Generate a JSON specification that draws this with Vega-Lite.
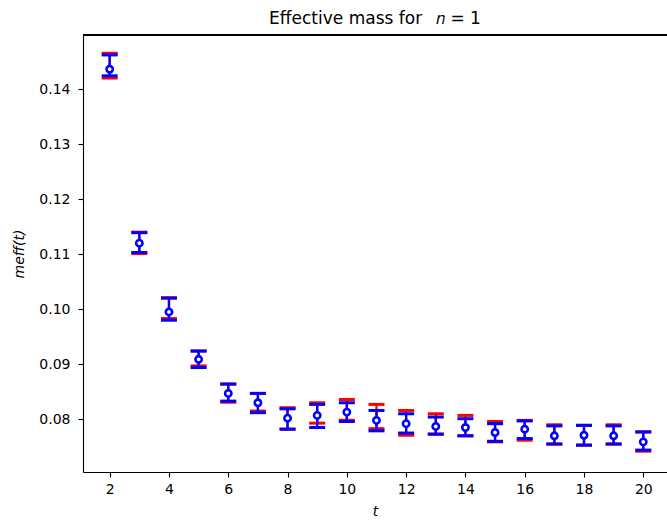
{
  "$schema": "https://vega.github.io/schema/vega-lite/v6.json",
  "autosize": {"type": "none"},
  "padding": {"left": 83, "top": 35, "right": 0, "bottom": 48},
  "width": 584,
  "height": 437,
  "background": "white",
  "config": {
    "view": {"stroke": null},
    "font": "DejaVu Sans",
    "axis": {
      "grid": false,
      "domainColor": "black",
      "domainWidth": 1.1,
      "tickColor": "black",
      "tickWidth": 1.1,
      "tickSize": 5,
      "labelFont": "DejaVu Sans",
      "labelFontSize": 14,
      "labelColor": "black",
      "titleFont": "DejaVu Sans",
      "titleFontSize": 14,
      "titleFontWeight": "normal",
      "titleFontStyle": "italic",
      "titleColor": "black"
    }
  },
  "title": {
    "text": "Effective mass for \u2002𝑛 = 1",
    "font": "DejaVu Sans",
    "fontSize": 17,
    "fontWeight": "normal",
    "color": "black",
    "anchor": "middle",
    "offset": 6
  },
  "data": {
    "values": [
      {"t": 2, "s": "red", "m": 0.14425, "lo": 0.1420, "hi": 0.1465},
      {"t": 3, "s": "red", "m": 0.11205, "lo": 0.1101, "hi": 0.1140},
      {"t": 4, "s": "red", "m": 0.1002, "lo": 0.0983, "hi": 0.1021},
      {"t": 5, "s": "red", "m": 0.09105, "lo": 0.0897, "hi": 0.0924},
      {"t": 6, "s": "red", "m": 0.08475, "lo": 0.0831, "hi": 0.0864},
      {"t": 7, "s": "red", "m": 0.0831, "lo": 0.0815, "hi": 0.0847},
      {"t": 8, "s": "red", "m": 0.08015, "lo": 0.0782, "hi": 0.0821},
      {"t": 9, "s": "red", "m": 0.08115, "lo": 0.0793, "hi": 0.0830},
      {"t": 10, "s": "red", "m": 0.0817, "lo": 0.0798, "hi": 0.0836},
      {"t": 11, "s": "red", "m": 0.0805, "lo": 0.0783, "hi": 0.0827},
      {"t": 12, "s": "red", "m": 0.07935, "lo": 0.0771, "hi": 0.0816},
      {"t": 13, "s": "red", "m": 0.07915, "lo": 0.0773, "hi": 0.0810},
      {"t": 14, "s": "red", "m": 0.07885, "lo": 0.0770, "hi": 0.0807},
      {"t": 15, "s": "red", "m": 0.07775, "lo": 0.0759, "hi": 0.0796},
      {"t": 16, "s": "red", "m": 0.0780, "lo": 0.0762, "hi": 0.0798},
      {"t": 17, "s": "red", "m": 0.07725, "lo": 0.0755, "hi": 0.0790},
      {"t": 18, "s": "red", "m": 0.0771, "lo": 0.0753, "hi": 0.0789},
      {"t": 19, "s": "red", "m": 0.07725, "lo": 0.0755, "hi": 0.0790},
      {"t": 20, "s": "red", "m": 0.07595, "lo": 0.0742, "hi": 0.0777},
      {"t": 2, "s": "blue", "m": 0.1436, "lo": 0.1424, "hi": 0.1462},
      {"t": 3, "s": "blue", "m": 0.1120, "lo": 0.1103, "hi": 0.1139},
      {"t": 4, "s": "blue", "m": 0.0995, "lo": 0.0980, "hi": 0.1020},
      {"t": 5, "s": "blue", "m": 0.0909, "lo": 0.0894, "hi": 0.0924},
      {"t": 6, "s": "blue", "m": 0.0847, "lo": 0.0833, "hi": 0.0864},
      {"t": 7, "s": "blue", "m": 0.0830, "lo": 0.0812, "hi": 0.0847},
      {"t": 8, "s": "blue", "m": 0.0802, "lo": 0.0782, "hi": 0.0819},
      {"t": 9, "s": "blue", "m": 0.0807, "lo": 0.0785, "hi": 0.0827},
      {"t": 10, "s": "blue", "m": 0.0813, "lo": 0.0796, "hi": 0.0830},
      {"t": 11, "s": "blue", "m": 0.0798, "lo": 0.0779, "hi": 0.0816},
      {"t": 12, "s": "blue", "m": 0.0792, "lo": 0.0775, "hi": 0.0810},
      {"t": 13, "s": "blue", "m": 0.0787, "lo": 0.0773, "hi": 0.0804},
      {"t": 14, "s": "blue", "m": 0.0785, "lo": 0.0770, "hi": 0.0801},
      {"t": 15, "s": "blue", "m": 0.0776, "lo": 0.0760, "hi": 0.0792},
      {"t": 16, "s": "blue", "m": 0.0782, "lo": 0.0765, "hi": 0.0797},
      {"t": 17, "s": "blue", "m": 0.0770, "lo": 0.0755, "hi": 0.0788},
      {"t": 18, "s": "blue", "m": 0.0771, "lo": 0.0753, "hi": 0.0789},
      {"t": 19, "s": "blue", "m": 0.0770, "lo": 0.0755, "hi": 0.0788},
      {"t": 20, "s": "blue", "m": 0.0759, "lo": 0.0744, "hi": 0.0777}
    ]
  },
  "encoding": {
    "x": {
      "field": "t",
      "type": "quantitative",
      "scale": {"domain": [1.1, 20.8], "nice": false, "zero": false},
      "axis": {"values": [2, 4, 6, 8, 10, 12, 14, 16, 18, 20], "title": "t", "labelPadding": 5, "titlePadding": 8}
    }
  },
  "layer": [
    {
      "mark": {"type": "rule", "color": "black", "strokeWidth": 1.1},
      "encoding": {
        "x": null,
        "y": {"datum": 0.14982, "type": "quantitative",
          "scale": {"domain": [0.07042, 0.14982], "nice": false, "zero": false},
          "axis": {"values": [0.08, 0.09, 0.10, 0.11, 0.12, 0.13, 0.14], "format": ".2f", "title": "meff(t)", "labelPadding": 8, "titlePadding": 12}}
      }
    },
    {
      "transform": [{"filter": "datum.s === 'red'"}],
      "mark": {"type": "rule", "color": "#ff0000", "strokeWidth": 2.3},
      "encoding": {
        "y": {"field": "lo", "type": "quantitative",
          "scale": {"domain": [0.07042, 0.14982], "nice": false, "zero": false},
          "axis": {"values": [0.08, 0.09, 0.10, 0.11, 0.12, 0.13, 0.14], "format": ".2f", "title": "meff(t)", "labelPadding": 8, "titlePadding": 12}},
        "y2": {"field": "hi"}
      }
    },
    {
      "transform": [{"filter": "datum.s === 'red'"}, {"fold": ["lo", "hi"], "as": ["k", "v"]}],
      "mark": {"type": "tick", "orient": "horizontal", "color": "#ff0000", "size": 16, "thickness": 3, "opacity": 1},
      "encoding": {
        "y": {"field": "v", "type": "quantitative",
          "scale": {"domain": [0.07042, 0.14982], "nice": false, "zero": false},
          "axis": {"values": [0.08, 0.09, 0.10, 0.11, 0.12, 0.13, 0.14], "format": ".2f", "title": "meff(t)", "labelPadding": 8, "titlePadding": 12}}
      }
    },
    {
      "transform": [{"filter": "datum.s === 'blue'"}],
      "mark": {"type": "rule", "color": "#0000ff", "strokeWidth": 2.3},
      "encoding": {
        "y": {"field": "lo", "type": "quantitative",
          "scale": {"domain": [0.07042, 0.14982], "nice": false, "zero": false},
          "axis": {"values": [0.08, 0.09, 0.10, 0.11, 0.12, 0.13, 0.14], "format": ".2f", "title": "meff(t)", "labelPadding": 8, "titlePadding": 12}},
        "y2": {"field": "hi"}
      }
    },
    {
      "transform": [{"filter": "datum.s === 'blue'"}, {"fold": ["lo", "hi"], "as": ["k", "v"]}],
      "mark": {"type": "tick", "orient": "horizontal", "color": "#0000ff", "size": 16, "thickness": 3, "opacity": 1},
      "encoding": {
        "y": {"field": "v", "type": "quantitative",
          "scale": {"domain": [0.07042, 0.14982], "nice": false, "zero": false},
          "axis": {"values": [0.08, 0.09, 0.10, 0.11, 0.12, 0.13, 0.14], "format": ".2f", "title": "meff(t)", "labelPadding": 8, "titlePadding": 12}}
      }
    },
    {
      "transform": [{"filter": "datum.s === 'blue'"}],
      "mark": {"type": "point", "shape": "circle", "filled": true, "fill": "white", "stroke": "#0000ff", "strokeWidth": 2.6, "size": 40, "opacity": 1},
      "encoding": {
        "y": {"field": "m", "type": "quantitative",
          "scale": {"domain": [0.07042, 0.14982], "nice": false, "zero": false},
          "axis": {"values": [0.08, 0.09, 0.10, 0.11, 0.12, 0.13, 0.14], "format": ".2f", "title": "meff(t)", "labelPadding": 8, "titlePadding": 12}}
      }
    }
  ]
}
